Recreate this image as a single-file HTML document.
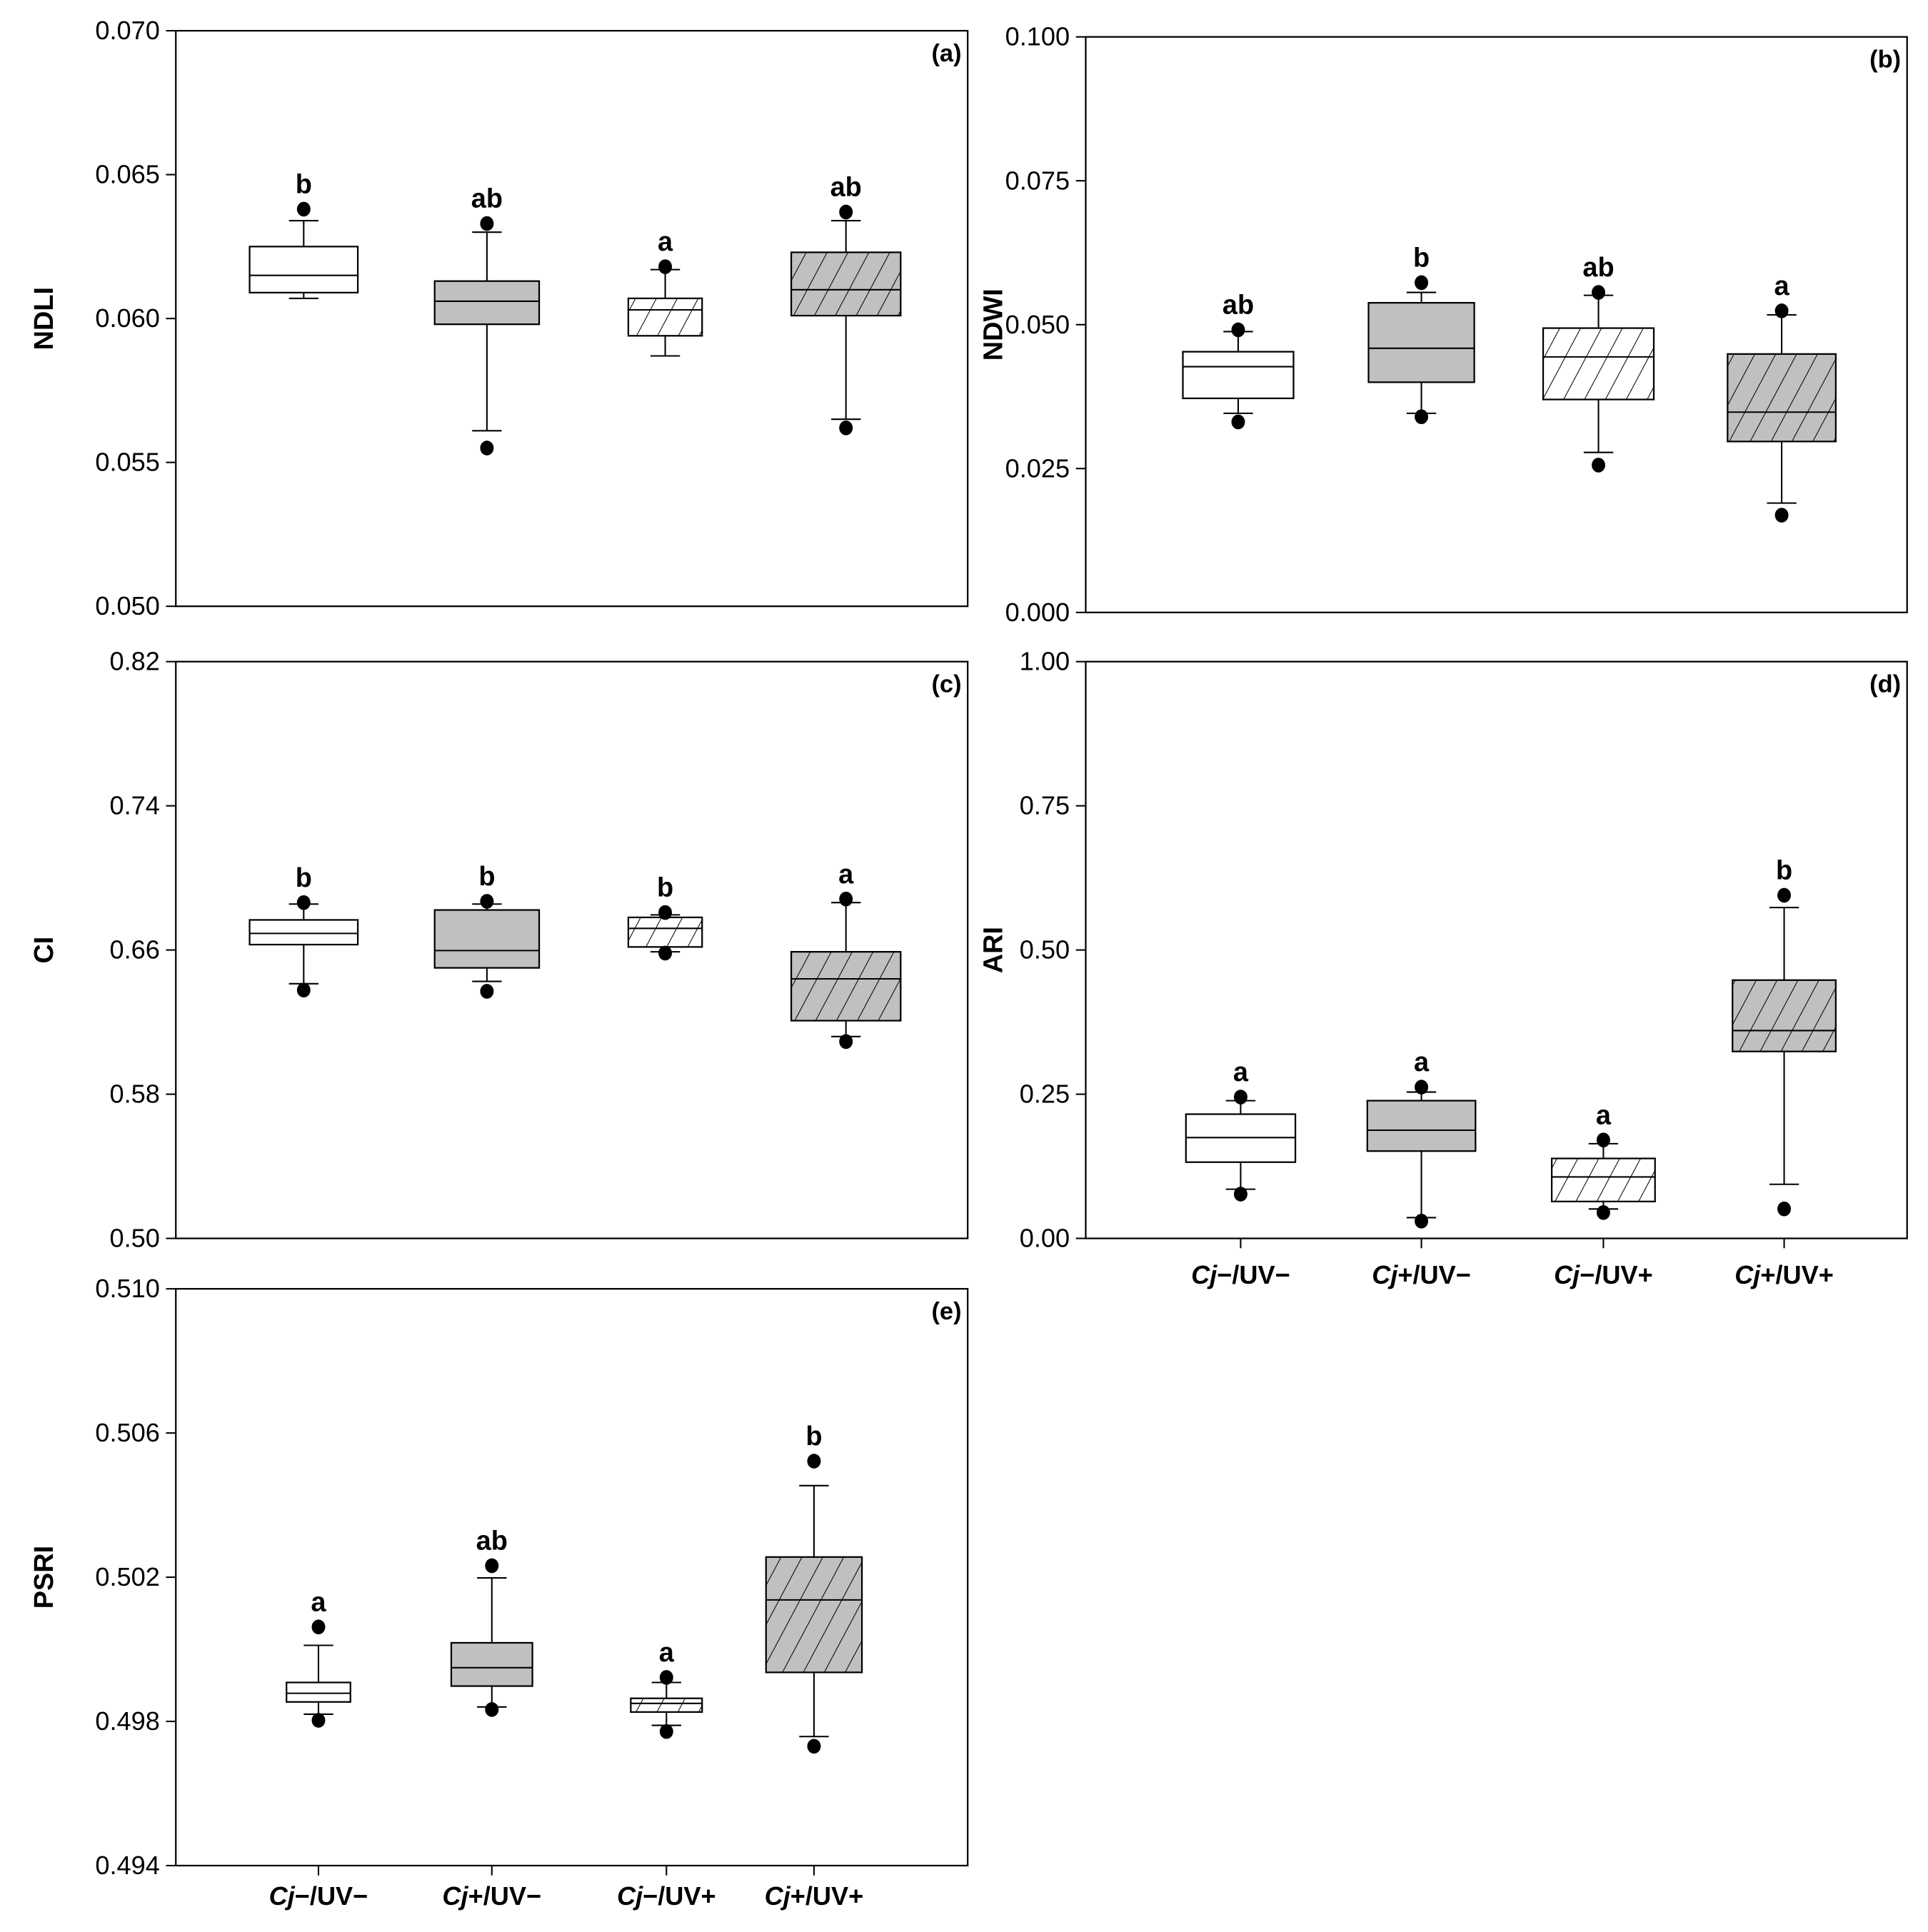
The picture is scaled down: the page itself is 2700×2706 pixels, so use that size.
<!DOCTYPE html>
<html><head><meta charset="utf-8"><style>html,body{margin:0;padding:0;background:#fff}svg{display:block}</style></head>
<body>
<svg id="fig" xmlns="http://www.w3.org/2000/svg" width="2700" height="2706" viewBox="0 0 1568 1571" preserveAspectRatio="none" font-family="'Liberation Sans', Arial, sans-serif">
<defs>
<pattern id="hatch" patternUnits="userSpaceOnUse" width="15" height="15" patternTransform="rotate(28)">
<line x1="0" y1="0" x2="0" y2="15" stroke="#000" stroke-width="1.2"/>
</pattern>
</defs>
</svg>
<script>
// ---- data ----
const categories = ["Cj−/UV−","Cj+/UV−","Cj−/UV+","Cj+/UV+"];
// [dotTop, whiskerTop, q3, median, q1, whiskerLow, dotLow]
const ndliValues = [[0.0638,0.0634,0.0625,0.0615,0.0609,0.0607,null],[0.0633,0.0630,0.0613,0.0606,0.0598,0.0561,0.0555],[0.0618,0.0617,0.0607,0.0603,0.0594,0.0587,null],[0.0637,0.0634,0.0623,0.0610,0.0601,0.0565,0.0562]];
const ndliLetters = ["b","ab","a","ab"];
const ndwiValues = [[0.0491,0.0488,0.0453,0.0427,0.0372,0.0346,0.0331],[0.0573,0.0556,0.0538,0.0459,0.0400,0.0346,0.0340],[0.0556,0.0551,0.0494,0.0444,0.0370,0.0278,0.0256],[0.0524,0.0517,0.0449,0.0348,0.0297,0.0190,0.0169]];
const ndwiLetters = ["ab","b","ab","a"];
const ciValues = [[0.6863,0.6855,0.6767,0.6692,0.6630,0.6413,0.6378],[0.6870,0.6855,0.6822,0.6597,0.6501,0.6426,0.6371],[0.6808,0.6795,0.6781,0.6720,0.6617,0.6590,0.6583],[0.6883,0.6863,0.6590,0.6440,0.6208,0.6120,0.6092]];
const ciLetters = ["b","b","b","a"];
const ariValues = [[0.245,0.2388,0.2154,0.1748,0.1322,0.0853,0.0768],[0.2623,0.2537,0.2388,0.1876,0.1514,0.036,0.030],[0.1706,0.1642,0.1386,0.1066,0.064,0.051,0.0448],[0.5949,0.5736,0.4478,0.3603,0.3241,0.0938,0.0512]];
const ariLetters = ["a","a","a","b"];
const psriValues = [[0.50062,0.50011,0.49908,0.49878,0.49854,0.4982,0.49803],[0.50232,0.50198,0.50018,0.49949,0.49898,0.4984,0.49833],[0.49922,0.49908,0.49864,0.49850,0.49826,0.49789,0.49772],[0.50522,0.50454,0.50256,0.50137,0.49936,0.49758,0.49731]];
const psriLetters = ["a","ab","a","b"];
const ndliTicks = ["0.050","0.055","0.060","0.065","0.070"];
const ndwiTicks = ["0.000","0.025","0.050","0.075","0.100"];
const ciTicks = ["0.50","0.58","0.66","0.74","0.82"];
const ariTicks = ["0.00","0.25","0.50","0.75","1.00"];
const psriTicks = ["0.494","0.498","0.502","0.506","0.510"];

const svg = document.getElementById('fig');
const NS = 'http://www.w3.org/2000/svg';
function mk(tag, attrs, parent){const e=document.createElementNS(NS,tag);for(const k in attrs)e.setAttribute(k,attrs[k]);(parent||svg).appendChild(e);return e;}

const fills = ["#fff","#c0c0c0","#fff","#c0c0c0"];
const hatched = [false,false,true,true];

function panel(p){
  const g = mk('g',{});
  
  
  const lo=parseFloat(p.ticks[0]), hi=parseFloat(p.ticks[p.ticks.length-1]);
  const y = v => p.y1 - (v-lo)/(hi-lo)*(p.y1-p.y0);
  const fr = mk('rect',{x:p.x0,y:p.y0,width:p.x1-p.x0,height:p.y1-p.y0,fill:'none',stroke:'#000','stroke-width':1.3},g);
  
  
  p.ticks.forEach(t=>{
    const ty=y(parseFloat(t));
    mk('line',{x1:p.x0-8,x2:p.x0,y1:ty,y2:ty,stroke:'#000','stroke-width':1.2},g);
    const tl = mk('text',{x:p.x0-13,y:ty+7,'text-anchor':'end','font-size':21},g);
    tl.textContent=t;
    
    
  });
  const yt = mk('text',{x:0,y:0,'font-size':22,'font-weight':'bold','text-anchor':'middle',transform:`translate(${p.x0-p.tOff},${(p.y0+p.y1)/2}) rotate(-90)`},g);
  yt.textContent=p.title;
  
  
  const pl = mk('text',{x:p.x1-5,y:p.y0+25,'text-anchor':'end','font-size':20,'font-weight':'bold'},g);
  pl.textContent=p.label;
  
  
  p.values.forEach((d,i)=>{
    const cx=p.cx[i], w=p.w[i];
    const bg = mk('g',{},g);
    
    
    mk('line',{x1:cx,x2:cx,y1:y(d[1]),y2:y(d[5]),stroke:'#000','stroke-width':1.2},bg);
    mk('line',{x1:cx-12,x2:cx+12,y1:y(d[1]),y2:y(d[1]),stroke:'#000','stroke-width':1.2},bg);
    mk('line',{x1:cx-12,x2:cx+12,y1:y(d[5]),y2:y(d[5]),stroke:'#000','stroke-width':1.2},bg);
    mk('rect',{x:cx-w/2,y:y(d[2]),width:w,height:y(d[4])-y(d[2]),fill:fills[i],stroke:'none'},bg);
    if(hatched[i]) mk('rect',{x:cx-w/2,y:y(d[2]),width:w,height:y(d[4])-y(d[2]),fill:'url(#hatch)',stroke:'none'},bg);
    mk('rect',{x:cx-w/2,y:y(d[2]),width:w,height:y(d[4])-y(d[2]),fill:'none',stroke:'#000','stroke-width':1.3},bg);
    mk('line',{x1:cx-w/2,x2:cx+w/2,y1:y(d[3]),y2:y(d[3]),stroke:'#000','stroke-width':1.2},bg);
    if(d[0]!==null) mk('ellipse',{cx:cx,cy:y(d[0]),rx:5.5,ry:6,fill:'#000'},bg);
    if(d[6]!==null) mk('ellipse',{cx:cx,cy:y(d[6]),rx:5.5,ry:6,fill:'#000'},bg);
    const lt = mk('text',{x:cx,y:y(d[0])-13,'text-anchor':'middle','font-size':22,'font-weight':'bold'},g);
    lt.textContent=p.letters[i];
    
    
    if(p.xlab){
      mk('line',{x1:cx,x2:cx,y1:p.y1,y2:p.y1+8,stroke:'#000','stroke-width':1.2},g);
      const xl = mk('text',{x:cx,y:p.xlab,'text-anchor':'middle','font-size':21,'font-weight':'bold'},g);
      const c = categories[i];
      const ts = mk('tspan',{'font-style':'italic'},xl); ts.textContent=c.slice(0,2);
      const ts2 = mk('tspan',{},xl); ts2.textContent=c.slice(2);
      
      
    }
  });
}
panel({name:'ndli',title:'NDLI',label:'(a)',tOff:100,x0:143,x1:787,y0:25,y1:493,ticks:ndliTicks,values:ndliValues,letters:ndliLetters,cx:[247,396,541,688],w:[88,85,60,89]});
panel({name:'ndwi',title:'NDWI',label:'(b)',tOff:68,x0:883,x1:1551,y0:30,y1:498,ticks:ndwiTicks,values:ndwiValues,letters:ndwiLetters,cx:[1007,1156,1300,1449],w:[90,86,90,88]});
panel({name:'ci',title:'CI',label:'(c)',tOff:100,x0:143,x1:787,y0:538,y1:1007,ticks:ciTicks,values:ciValues,letters:ciLetters,cx:[247,396,541,688],w:[88,85,60,89]});
panel({name:'ari',title:'ARI',label:'(d)',tOff:68,x0:883,x1:1551,y0:538,y1:1007,ticks:ariTicks,values:ariValues,letters:ariLetters,cx:[1009,1156,1304,1451],w:[89,88,84,84],xlab:1044});
panel({name:'psri',title:'PSRI',label:'(e)',tOff:100,x0:143,x1:787,y0:1048,y1:1517,ticks:psriTicks,values:psriValues,letters:psriLetters,cx:[259,400,542,662],w:[52,66,58,78],xlab:1549});
</script>
</body></html>
